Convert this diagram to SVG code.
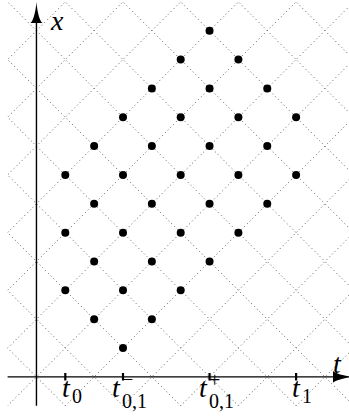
<svg xmlns="http://www.w3.org/2000/svg" width="349" height="418" viewBox="0 0 349 418">
<style>
.grid{fill:none;stroke:#333;stroke-width:0.9;stroke-dasharray:0.9 3;}
.axis{fill:none;stroke:#000;stroke-width:1.4;}
.tick{stroke:#000;stroke-width:2.2;}
.dot{fill:#000;}
.m{font-family:"Liberation Serif","Times New Roman",serif;font-style:italic;font-size:28px;fill:#000;}
.s{font-family:"Liberation Serif","Times New Roman",serif;font-size:20px;fill:#000;}
</style>
<defs>
<clipPath id="clip"><rect x="7.6" y="1.85" width="342" height="403.9"/></clipPath>
</defs>
<rect width="349" height="418" fill="#fff"/>
<g id="grid" clip-path="url(#clip)">
<path class="grid" d="M-340.45 0L69.55 410M-282.75 0L127.25 410M-225.05 0L184.95 410M-167.35 0L242.65 410M-109.65 0L300.35 410M-51.95 0L358.05 410M5.75 0L415.75 410M63.45 0L473.45 410M121.15 0L531.15 410M178.85 0L588.85 410M236.55 0L646.55 410M294.25 0L704.25 410"/>
<path class="grid" d="M67.15 0L-342.85 410M124.85 0L-285.15 410M182.55 0L-227.45 410M240.25 0L-169.75 410M297.95 0L-112.05 410M355.65 0L-54.35 410M413.35 0L3.35 410M471.05 0L61.05 410M528.75 0L118.75 410M586.45 0L176.45 410M644.15 0L234.15 410M701.85 0L291.85 410"/>
</g>
<g id="axes">
<line class="axis" x1="7.6" y1="376.9" x2="336" y2="376.9"/>
<path d="M353.9 376.9C343 377.7 333 381 333 383.2L333 370.6C333 372.8 343 376.1 353.9 376.9Z"/>
<line class="axis" x1="36.45" y1="405.75" x2="36.45" y2="20"/>
<path d="M36.45 1.9C37.25 13 40.5 22.9 42.75 22.9L30.15 22.9C32.4 22.9 35.65 13 36.45 1.9Z"/>
<line class="tick" x1="65.3" y1="373" x2="65.3" y2="380.5"/>
<line class="tick" x1="123" y1="373" x2="123" y2="380.5"/>
<line class="tick" x1="209.55" y1="373" x2="209.55" y2="380.5"/>
<line class="tick" x1="296.1" y1="373" x2="296.1" y2="380.5"/>
</g>
<g id="dots" class="dot">
<circle cx="209.55" cy="30.7" r="4"/>
<circle cx="180.7" cy="59.55" r="4"/><circle cx="238.4" cy="59.55" r="4"/>
<circle cx="151.85" cy="88.4" r="4"/><circle cx="209.55" cy="88.4" r="4"/><circle cx="267.25" cy="88.4" r="4"/>
<circle cx="123" cy="117.25" r="4"/><circle cx="180.7" cy="117.25" r="4"/><circle cx="238.4" cy="117.25" r="4"/><circle cx="296.1" cy="117.25" r="4"/>
<circle cx="94.15" cy="146.1" r="4"/><circle cx="151.85" cy="146.1" r="4"/><circle cx="209.55" cy="146.1" r="4"/><circle cx="267.25" cy="146.1" r="4"/>
<circle cx="65.3" cy="174.95" r="4"/><circle cx="123" cy="174.95" r="4"/><circle cx="180.7" cy="174.95" r="4"/><circle cx="238.4" cy="174.95" r="4"/><circle cx="296.1" cy="174.95" r="4"/>
<circle cx="94.15" cy="203.8" r="4"/><circle cx="151.85" cy="203.8" r="4"/><circle cx="209.55" cy="203.8" r="4"/><circle cx="267.25" cy="203.8" r="4"/>
<circle cx="65.3" cy="232.65" r="4"/><circle cx="123" cy="232.65" r="4"/><circle cx="180.7" cy="232.65" r="4"/><circle cx="238.4" cy="232.65" r="4"/>
<circle cx="94.15" cy="261.5" r="4"/><circle cx="151.85" cy="261.5" r="4"/><circle cx="209.55" cy="261.5" r="4"/>
<circle cx="65.3" cy="290.35" r="4"/><circle cx="123" cy="290.35" r="4"/><circle cx="180.7" cy="290.35" r="4"/>
<circle cx="94.15" cy="319.2" r="4"/><circle cx="151.85" cy="319.2" r="4"/>
<circle cx="123" cy="348.05" r="4"/>
</g>
<g id="labels">
<text class="m" x="51" y="30">x</text>
<text class="m" x="333" y="373">t</text>
<g id="t0"><text class="m" x="62" y="397">t</text><text class="s" x="72" y="403">0</text></g>
<g id="t01m"><text class="m" x="112" y="397">t</text><text class="s" x="122" y="386">−</text><text class="s" x="122" y="408">0,1</text></g>
<g id="t01p"><text class="m" x="199" y="397">t</text><text class="s" x="209" y="387">+</text><text class="s" x="209" y="408">0,1</text></g>
<g id="t1"><text class="m" x="292" y="397">t</text><text class="s" x="302" y="403">1</text></g>
</g>
</svg>
